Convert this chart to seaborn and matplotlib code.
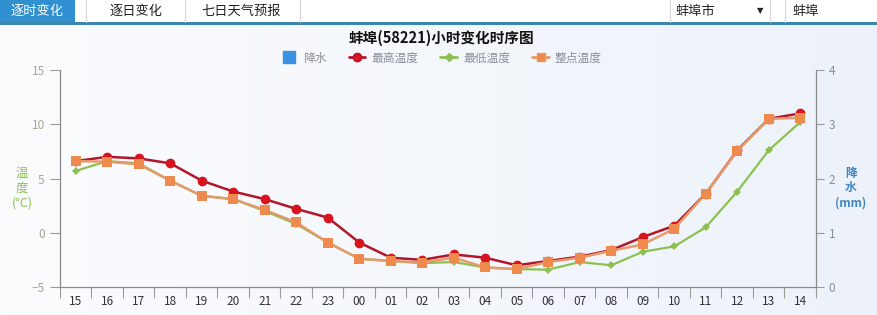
import matplotlib
matplotlib.use("Agg")
import matplotlib.pyplot as plt
from matplotlib.patches import Rectangle
from matplotlib.lines import Line2D
from matplotlib.colors import LinearSegmentedColormap
import numpy as np
import pandas as pd
import seaborn as sns

hours = ["15", "16", "17", "18", "19", "20", "21", "22", "23", "00", "01", "02",
         "03", "04", "05", "06", "07", "08", "09", "10", "11", "12", "13", "14"]
t_max = [6.6, 7.0, 6.85, 6.4, 4.8, 3.8, 3.1, 2.2, 1.4, -0.9, -2.3, -2.5,
         -2.0, -2.3, -3.0, -2.6, -2.2, -1.6, -0.4, 0.65, 3.6, 7.6, 10.5, 11.0]
t_min = [5.7, 6.6, 6.4, 4.8, 3.4, 3.1, 2.0, 0.8, -0.9, -2.4, -2.6, -2.8,
         -2.7, -3.2, -3.35, -3.4, -2.7, -3.0, -1.75, -1.26, 0.5, 3.8, 7.6, 10.2]
t_now = [6.6, 6.55, 6.3, 4.8, 3.4, 3.1, 2.1, 0.95, -0.9, -2.4, -2.6, -2.75,
         -2.3, -3.2, -3.35, -2.7, -2.3, -1.66, -1.08, 0.37, 3.6, 7.55, 10.5, 10.6]
precip = [0.0] * 24

series_names = ["降水", "最高温度", "最低温度", "整点温度"]
title = "蚌埠(58221)小时变化时序图"
tabs = ["逐时变化", "逐日变化", "七日天气预报"]

C_RED = "#d7141f"
C_RED_LINE = "#b3162a"
C_GREEN = "#8cc152"
C_ORANGE = "#ef8a4e"
C_ORANGE_LINE = "#e59a6a"
C_BLUE = "#3a92e0"

sns.set_theme(style="white")
plt.rcParams["font.family"] = ["Noto Sans CJK SC", "DejaVu Sans"]

fig = plt.figure(figsize=(8.78, 3.15), dpi=100)
fig.patch.set_facecolor("#f1f5fb")

# background gradient
bg = fig.add_axes([0, 0, 1, 1], zorder=-10)
grad = np.linspace(0, 1, 256)[None, :]
cmap = LinearSegmentedColormap.from_list("bg", ["#fbfcfe", "#edf2fa"])
bg.imshow(grad, aspect="auto", cmap=cmap, extent=[0, 1, 0, 1])
bg.set_axis_off()

W, H = 878, 315
def fx(px):
    return px / W
def fy(py):
    return 1 - py / H

# tab bar
fig.patches.append(Rectangle((0, fy(22)), 1, 22 / H, transform=fig.transFigure,
                             facecolor="white", edgecolor="none", zorder=1))
fig.patches.append(Rectangle((0, fy(22)), fx(75), 22 / H, transform=fig.transFigure,
                             facecolor="#2f8fcf", edgecolor="none", zorder=2))
fig.patches.append(Rectangle((0, fy(25)), 1, 3 / H, transform=fig.transFigure,
                             facecolor="#3b88ad", edgecolor="none", zorder=2))
for sx in [86, 185, 300, 670, 770, 785]:
    fig.add_artist(Line2D([fx(sx), fx(sx)], [fy(22), fy(0)], transform=fig.transFigure,
                          color="#d6d6d6", lw=0.8, zorder=3))
fig.text(fx(37), fy(11), tabs[0], color="white", fontsize=9.5, ha="center", va="center", zorder=4)
fig.text(fx(136), fy(11), tabs[1], color="#222222", fontsize=9.5, ha="center", va="center", zorder=4)
fig.text(fx(241), fy(11), tabs[2], color="#222222", fontsize=9.5, ha="center", va="center", zorder=4)
fig.text(fx(675), fy(11), "蚌埠市", color="#222222", fontsize=9.5, ha="left", va="center", zorder=4)
fig.text(fx(760), fy(11), "▼", color="#222222", fontsize=6, ha="center", va="center",
         family=["DejaVu Sans"], zorder=4)
fig.text(fx(792), fy(11), "蚌埠", color="#222222", fontsize=9.5, ha="left", va="center", zorder=4)

# title
fig.text(fx(441), fy(38), title, color="#111111", fontsize=10.5, fontweight="bold",
         ha="center", va="center")

# main axes
ax = fig.add_axes([fx(60), fy(287), fx(816) - fx(60), (287 - 70) / H])
ax.set_facecolor("none")

df = pd.DataFrame({"hour": hours, "max": t_max, "min": t_min, "now": t_now, "precip": precip})

ax2 = ax.twinx()
sns.barplot(data=df, x="hour", y="precip", color=C_BLUE, ax=ax2, width=0.6)
ax2.set_ylim(0, 4)

sns.lineplot(data=df, x="hour", y="min", sort=False, color=C_GREEN, lw=1.6,
             marker="D", markersize=4.5, markeredgewidth=0, ax=ax, zorder=3)
sns.lineplot(data=df, x="hour", y="max", sort=False, color=C_RED_LINE, lw=1.8,
             marker="o", markersize=7, markerfacecolor=C_RED, markeredgewidth=0, ax=ax, zorder=4)
sns.lineplot(data=df, x="hour", y="now", sort=False, color=C_ORANGE_LINE, lw=1.8,
             marker="s", markersize=6.5, markerfacecolor=C_ORANGE, markeredgewidth=0, ax=ax, zorder=5)

ax.set_ylim(-5, 15)
ax.set_yticks([-5, 0, 5, 10, 15])
ax.set_xlim(-0.5, len(hours) - 0.5)
ax.set_xlabel("")
ax.set_ylabel("")
ax2.set_xlabel("")
ax2.set_ylabel("")
ax2.set_yticks([0, 1, 2, 3, 4])

ax.set_xticks(range(len(hours)))
ax.set_xticklabels(hours)
ax.set_xticks(np.arange(-0.5, len(hours), 1.0), minor=True)
ax.tick_params(axis="x", which="major", length=0, labelsize=8.5, labelcolor="#333333", pad=6)
ax.tick_params(axis="x", which="minor", length=8, color="#9a9a9a", width=0.8, bottom=True)
ax.tick_params(axis="y", which="major", length=7, color="#9a9a9a", width=0.8, left=True,
               labelsize=8.5, labelcolor="#a0aa90", pad=4)
ax2.tick_params(axis="y", which="major", length=6, color="#9a9a9a", width=0.8, right=True,
                labelsize=8.5, labelcolor="#7f90a0", pad=3)

for a in (ax, ax2):
    a.spines["top"].set_visible(False)
    for s in ["left", "bottom", "right"]:
        a.spines[s].set_color("#8a8a8a")
        a.spines[s].set_linewidth(0.9)
ax.spines["right"].set_visible(False)
ax2.spines["left"].set_visible(False)
ax2.spines["bottom"].set_visible(False)
ax.set_zorder(ax2.get_zorder() + 1)
ax.patch.set_visible(False)

# axis labels
fig.text(fx(22), fy(188), "温\n度\n(℃)", color="#8cc152", fontsize=9, ha="center",
         va="center", linespacing=1.2)
fig.text(fx(851), fy(188), "降\n水\n(mm)", color="#3d87c4", fontsize=8.5, fontweight="bold",
         ha="center", va="center", linespacing=1.2)

# legend
handles = [
    Line2D([], [], color=C_BLUE, marker="s", markersize=9, lw=0),
    Line2D([], [], color=C_RED_LINE, marker="o", markersize=6, markerfacecolor=C_RED, lw=2),
    Line2D([], [], color=C_GREEN, marker="D", markersize=4, lw=2),
    Line2D([], [], color=C_ORANGE_LINE, marker="s", markersize=6, markerfacecolor=C_ORANGE, lw=2),
]
leg = fig.legend(handles, series_names, loc="center", bbox_to_anchor=(fx(441), fy(58)),
                 ncol=4, frameon=False, fontsize=8.5, handlelength=1.4, columnspacing=1.9,
                 handletextpad=0.5, labelcolor="#8a8f99")

fig.savefig("out.png", dpi=100, facecolor=fig.get_facecolor())
